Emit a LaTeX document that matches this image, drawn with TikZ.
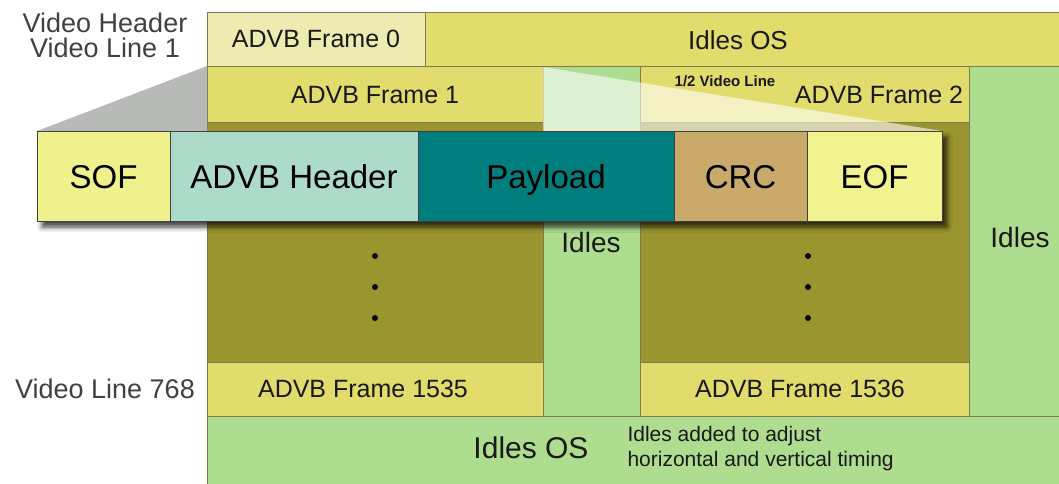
\documentclass[tikz,border=0pt]{standalone}
\usepackage{fontspec}
\setmainfont{Liberation Sans}
\usetikzlibrary{positioning,shadows.blur}

\definecolor{framelight}{HTML}{EEEBB0}
\definecolor{frameyellow}{HTML}{E2DC6C}
\definecolor{olivebody}{HTML}{9B9530}
\definecolor{idlegreen}{HTML}{AEDD90}
\definecolor{sofyellow}{HTML}{EEF18C}
\definecolor{hdrgreen}{HTML}{ADDBC9}
\definecolor{payteal}{HTML}{007D7D}
\definecolor{crctan}{HTML}{C9AA6B}
\definecolor{eofyellow}{HTML}{F0F38E}
\definecolor{wedgegray}{HTML}{B8BAB8}
\definecolor{cellline}{HTML}{7C7B52}
\definecolor{sidetext}{HTML}{404040}

\tikzset{
	cell/.style={draw=cellline, line width=0.8pt},
	seg/.style={draw=black!75, line width=1pt, minimum height=90pt, inner sep=0pt, outer sep=0pt, text height=24pt, text depth=0pt, anchor=west, font=\fontsize{33}{36}\selectfont},
	lbl/.style={font=\fontsize{25}{28}\selectfont, text=black!90},
	idl/.style={font=\fontsize{28}{30}\selectfont, text=black!90},
	side/.style={font=\fontsize{27}{25}\selectfont, text=sidetext, align=center},
	dotmark/.style={circle, fill=black, inner sep=0pt, minimum size=6pt},
}

\begin{document}
\begin{tikzpicture}[x=1pt, y=-1pt]
		%%%%% START %%%%%
		\useasboundingbox (0,0) rectangle (1059,483);
		
		% grid of frames
		\draw[cell, fill=framelight] (207,12) rectangle (425,66);
		\draw[cell, fill=frameyellow] (425,12) rectangle (1064,66);
		
		\draw[cell, fill=frameyellow] (207,66) rectangle (543,122);
		\draw[cell, fill=olivebody] (207,122) rectangle (543,362);
		\draw[cell, fill=frameyellow] (207,362) rectangle (543,416);
		
		\draw[cell, fill=idlegreen] (543,66) rectangle (640,416);
		
		\draw[cell, fill=frameyellow] (640,66) rectangle (969,122);
		\draw[cell, fill=olivebody] (640,122) rectangle (969,362);
		\draw[cell, fill=frameyellow] (640,362) rectangle (969,416);
		
		\draw[cell, fill=idlegreen] (969,66) rectangle (1064,416);
		\draw[cell, fill=idlegreen] (207,416) rectangle (1064,488);
		
		% zoom wedges
		\fill[wedgegray] (207,66) -- (37,131) -- (207,131) -- cycle;
		\fill[white, opacity=0.6] (543,67) -- (942,131) -- (543,131) -- cycle;
		
		% frame labels
		\node[side] (vhdr) at (105,35) {Video Header\\Video Line 1};
		\node[side] (vl768) at (105,389) {Video Line 768};
		
		\node[lbl] (f0) at (316,39) {ADVB Frame 0};
		\node[font=\fontsize{26}{28}\selectfont, text=black!90] (idtop) at (738,40) {Idles OS};
		\node[lbl] (f1) at (375,95) {ADVB Frame 1};
		\node[font=\bfseries\fontsize{15}{16}\selectfont, text=black!90] (half) at (725,81) {1/2 Video Line};
		\node[lbl] (f2) at (879,95) {ADVB Frame 2};
		
		\node[idl] (idmid) at (591,242) {Idles};
		\node[idl] (idright) at (1020,237) {Idles};
		
		\node[dotmark] (da1) at (375,256) {};
		\node[dotmark] (da2) at (375,287) {};
		\node[dotmark] (da3) at (375,318) {};
		\node[dotmark] (db1) at (808,256) {};
		\node[dotmark] (db2) at (808,287) {};
		\node[dotmark] (db3) at (808,318) {};
		
		\node[lbl] (f1535) at (363,389) {ADVB Frame 1535};
		\node[lbl] (f1536) at (800,389) {ADVB Frame 1536};
		
		\node[font=\fontsize{30}{32}\selectfont, text=black!90] (idbot) at (531,448) {Idles OS};
		\node[font=\fontsize{21}{25}\selectfont, text=black!90, align=left, anchor=west] (note) at (624,449) {Idles added to adjust\\horizontal and vertical timing};
		
		% expanded video line
		\path[blur shadow={shadow xshift=5pt, shadow yshift=-6pt, shadow blur radius=5pt, shadow opacity=75}] (37,131) rectangle (942,221);
		\node[seg, fill=sofyellow, minimum width=133pt] (sof) at (37,176) {SOF};
		\node[seg, fill=hdrgreen, minimum width=248pt, right=0pt of sof] (hdr) {ADVB Header};
		\node[seg, fill=payteal, minimum width=256pt, right=0pt of hdr] (pay) {Payload};
		\node[seg, fill=crctan, minimum width=133pt, right=0pt of pay] (crc) {CRC};
		\node[seg, fill=eofyellow, minimum width=135pt, right=0pt of crc] (eof) {EOF};
		
		%%%%% END %%%%%
\end{tikzpicture}
\end{document}
